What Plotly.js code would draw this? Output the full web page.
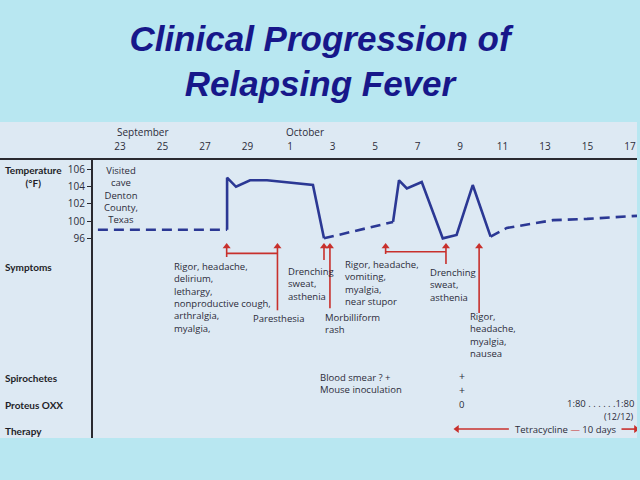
<!DOCTYPE html>
<html><head><meta charset="utf-8">
<script src="https://cdn.plot.ly/plotly-3.0.1.min.js"></script>
<style>html,body{margin:0;padding:0;background:#b8e7f1;overflow:hidden}</style>
</head><body><div id="chart" style="width:640px;height:480px"></div>
<script>
// Day index: 0 = September 23, 8 = October 1
const dateTickDays = [0,2,4,6,8,10,12,14,16,18,20,22,24];
const dateTickLabels = ['23','25','27','29','1','3','5','7','9','11','13','15','17'];
const tempTickVals = [98,100,102,104,106];
const tempTickLabels = ['96','100','102','104','106'];

// Temperature curve (°F, drawn scale), dashed = afebrile / solid = febrile
const afebrile1Days = [-1.04, 5.04];
const afebrile1Temps = [99.0, 99.0];
const fever1Days = [5.04, 5.04, 5.46, 6.12, 6.92, 9.08, 9.6];
const fever1Temps = [99.0, 105.0, 103.95, 104.7, 104.7, 104.15, 98.0];
const afebrile2Days = [9.6, 11.3, 12.85];
const afebrile2Temps = [98.0, 98.95, 99.9];
const fever2Days = [12.85, 13.13, 13.5, 14.2, 15.19, 15.84, 16.6, 17.44];
const fever2Temps = [99.9, 104.7, 103.75, 104.5, 98.0, 98.4, 104.15, 98.2];
const afebrile3Days = [17.44, 18.2, 20.38, 21.98, 24.33];
const afebrile3Temps = [98.2, 99.2, 100.1, 100.25, 100.6];

// Symptom event arrows
const eventDays = [5.02, 7.41, 9.6, 9.88, 12.5, 15.34, 16.9];
const eventTailTemps = [95.85, 89.7, 95.5, 89.95, 96.2, 95.05, 89.4];
const eventHeadTemp = 97.05;
const spanStartDays = [5.02, 12.5];
const spanEndDays = [7.41, 15.34];
const spanTemps = [96.27, 96.46];

// Therapy: tetracycline, 10 days
const therapyStartDay = 15.86;
const therapyEndDay = 24.28;
const therapyTextStart = 18.3;
const therapyTextEnd = 23.6;
const therapyRowTemp = 76.0;

const navy = '#2b3894';
const red = '#c8302c';
const ink = '#2c2c3a';
const body = '"Open Sans", Lato, sans-serif';
const labelFont = 'Lato, "Open Sans", sans-serif';

function line(x, y, dash) {
  return {x, y, type:'scatter', mode:'lines', hoverinfo:'skip', showlegend:false,
    line:{color:navy, width:2.6, dash: dash ? '10px,6px' : 'solid'}};
}

const stemX = [], stemY = [];
eventDays.forEach((d, i) => { stemX.push(d, d, null); stemY.push(eventTailTemps[i], eventHeadTemp, null); });
spanStartDays.forEach((d, i) => { stemX.push(d, spanEndDays[i], null); stemY.push(spanTemps[i], spanTemps[i], null); });
stemX.push(therapyStartDay, therapyTextStart, null, therapyTextEnd, therapyEndDay);
stemY.push(therapyRowTemp, therapyRowTemp, null, therapyRowTemp, therapyRowTemp);

const traces = [
  line(afebrile1Days, afebrile1Temps, true),
  line(fever1Days, fever1Temps, false),
  line(afebrile2Days, afebrile2Temps, true),
  line(fever2Days, fever2Temps, false),
  line(afebrile3Days, afebrile3Temps, true),
  {x:stemX, y:stemY, type:'scatter', mode:'lines', hoverinfo:'skip', showlegend:false,
   line:{color:red, width:1.6}},
  {x:eventDays, y:eventDays.map(() => eventHeadTemp), type:'scatter', mode:'markers', hoverinfo:'skip', showlegend:false,
   marker:{symbol:'triangle-up', size:7, color:red}},
  {x:[therapyStartDay, therapyEndDay], y:[therapyRowTemp, therapyRowTemp], type:'scatter', mode:'markers', hoverinfo:'skip', showlegend:false,
   marker:{symbol:['triangle-left','triangle-right'], size:7, color:red}}
];

function note(text, x, y, opts) {
  return Object.assign({text, x, y, xref:'x', yref:'y', showarrow:false, xanchor:'left', yanchor:'middle',
    align:'left', font:{family:body, size:9.5, color:ink}}, opts || {});
}
function rowLabel(text, y, opts) {
  return Object.assign({text, x:0.005, y, xref:'paper', yref:'y', showarrow:false, xanchor:'left', yanchor:'middle',
    align:'left', font:{family:labelFont, size:10, color:'#1e1e28', weight:'bold'}}, opts || {});
}

const annotations = [
  {text:'September', x:1.08, y:1.1, xref:'x', yref:'paper', yanchor:'middle', showarrow:false, font:{family:body, size:10, color:ink}},
  {text:'October', x:8.7, y:1.1, xref:'x', yref:'paper', yanchor:'middle', showarrow:false, font:{family:body, size:10, color:ink}},
  rowLabel('Temperature<br>(°F)', 105.15, {x:0.052, xanchor:'center', align:'center'}),
  rowLabel('Symptoms', 94.69),
  rowLabel('Spirochetes', 81.88),
  rowLabel('Proteus OXX', 78.8),
  rowLabel('Therapy', 75.8),
  note('Visited<br>cave<br>Denton<br>County,<br>Texas', 0.03, 103.0, {xanchor:'center', align:'center'}),
  note('Rigor, headache,<br>delirium,<br>lethargy,<br>nonproductive cough,<br>arthralgia,<br>myalgia,', 2.43, 91.2),
  note('Paresthesia', 6.15, 88.77),
  note('Drenching<br>sweat,<br>asthenia', 7.81, 92.75),
  note('Morbilliform<br>rash', 9.54, 88.2),
  note('Rigor, headache,<br>vomiting,<br>myalgia,<br>near stupor', 10.48, 92.8),
  note('Drenching<br>sweat,<br>asthenia', 14.51, 92.65),
  note('Rigor,<br>headache,<br>myalgia,<br>nausea', 16.36, 86.87),
  note('Blood smear ? +<br>Mouse inoculation', 9.32, 81.25),
  note('+<br>+', 16.08, 81.3, {xanchor:'center', align:'center', font:{family:body, size:10.5, color:ink}}),
  note('0', 16.08, 78.88, {xanchor:'center'}),
  note('1:80 . . . . . .1:80', 24.3, 79.0, {xanchor:'right'}),
  note('(12/12)', 24.3, 77.45, {xanchor:'right', font:{family:body, size:9, color:ink}}),
  note('Tetracycline <span style="color:' + red + '">—</span> 10 days', 21.0, therapyRowTemp, {xanchor:'center'})
];

const layout = {
  width:640, height:480,
  margin:{l:0, r:3, t:160, b:42, pad:0},
  paper_bgcolor:'#b8e7f1',
  plot_bgcolor:'rgba(0,0,0,0)',
  title:{text:'Clinical Progression of<br>Relapsing Fever', x:0.5, xanchor:'center', y:0.894, yanchor:'middle',
    font:{family:'"Liberation Sans", Arial, sans-serif', size:35, color:'#17178a', weight:'bold', style:'italic'}},
  xaxis:{range:[-5.647, 24.33], side:'top', anchor:'y', tickvals:dateTickDays, ticktext:dateTickLabels,
    ticks:'outside', ticklen:4, tickcolor:'rgba(0,0,0,0)', showgrid:false, zeroline:false,
    showline:true, linecolor:'#2a2a30', linewidth:2, tickfont:{family:body, size:10, color:ink}, fixedrange:true},
  yaxis:{range:[74.97, 107.04], anchor:'free', position:0.1444, side:'left', tickvals:tempTickVals, ticktext:tempTickLabels,
    ticks:'outside', ticklen:4, tickcolor:'#2a2a30', showgrid:false, zeroline:false,
    showline:true, linecolor:'#2a2a30', linewidth:2, tickfont:{family:body, size:10, color:ink}, fixedrange:true},
  shapes:[{type:'rect', xref:'paper', yref:'paper', x0:0, x1:1, y0:0, y1:1.1367, layer:'below',
    fillcolor:'#dde9f3', line:{width:0}}],
  annotations,
  showlegend:false
};

Plotly.newPlot('chart', traces, layout, {staticPlot:true, displayModeBar:false});
</script></body></html>
